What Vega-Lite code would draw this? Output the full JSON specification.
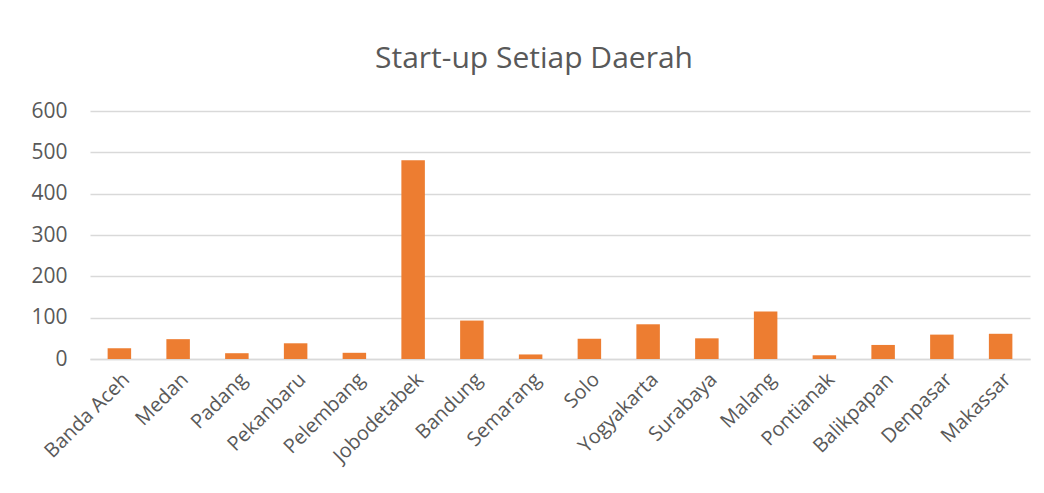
{
  "$schema": "https://vega.github.io/schema/vega-lite/v6.json",
  "autosize": {"type": "none"},
  "width": 940,
  "height": 248,
  "padding": {"left": 90, "top": 111, "right": 14, "bottom": 134},
  "background": "white",
  "title": {
    "text": "Start-up Setiap Daerah",
    "font": "Open Sans",
    "fontSize": 30,
    "fontWeight": "normal",
    "color": "#595959",
    "anchor": "middle",
    "dx": -26,
    "offset": 26
  },
  "data": {
    "values": [
      {"kota": "Banda Aceh", "jumlah": 26},
      {"kota": "Medan", "jumlah": 48},
      {"kota": "Padang", "jumlah": 14},
      {"kota": "Pekanbaru", "jumlah": 38},
      {"kota": "Pelembang", "jumlah": 15},
      {"kota": "Jobodetabek", "jumlah": 481},
      {"kota": "Bandung", "jumlah": 93},
      {"kota": "Semarang", "jumlah": 11},
      {"kota": "Solo", "jumlah": 49},
      {"kota": "Yogyakarta", "jumlah": 84},
      {"kota": "Surabaya", "jumlah": 50},
      {"kota": "Malang", "jumlah": 115},
      {"kota": "Pontianak", "jumlah": 9},
      {"kota": "Balikpapan", "jumlah": 34},
      {"kota": "Denpasar", "jumlah": 59},
      {"kota": "Makassar", "jumlah": 61}
    ]
  },
  "mark": {"type": "bar", "color": "#ED7D31"},
  "encoding": {
    "x": {
      "field": "kota",
      "type": "nominal",
      "sort": null,
      "title": null,
      "scale": {"paddingInner": 0.6, "paddingOuter": 0.3},
      "axis": {
        "labelAngle": -45,
        "labelFont": "Open Sans",
        "labelFontSize": 20,
        "labelColor": "#595959",
        "domainColor": "#D9D9D9",
        "domainWidth": 1.5,
        "ticks": false,
        "labelPadding": 10
      }
    },
    "y": {
      "field": "jumlah",
      "type": "quantitative",
      "title": null,
      "scale": {"domain": [0, 600]},
      "axis": {
        "values": [0, 100, 200, 300, 400, 500, 600],
        "labelFont": "Open Sans",
        "labelFontSize": 21,
        "labelColor": "#595959",
        "domain": false,
        "ticks": false,
        "labelPadding": 23,
        "gridColor": "#D9D9D9",
        "gridWidth": 1.3
      }
    }
  },
  "config": {"view": {"stroke": null}}
}
